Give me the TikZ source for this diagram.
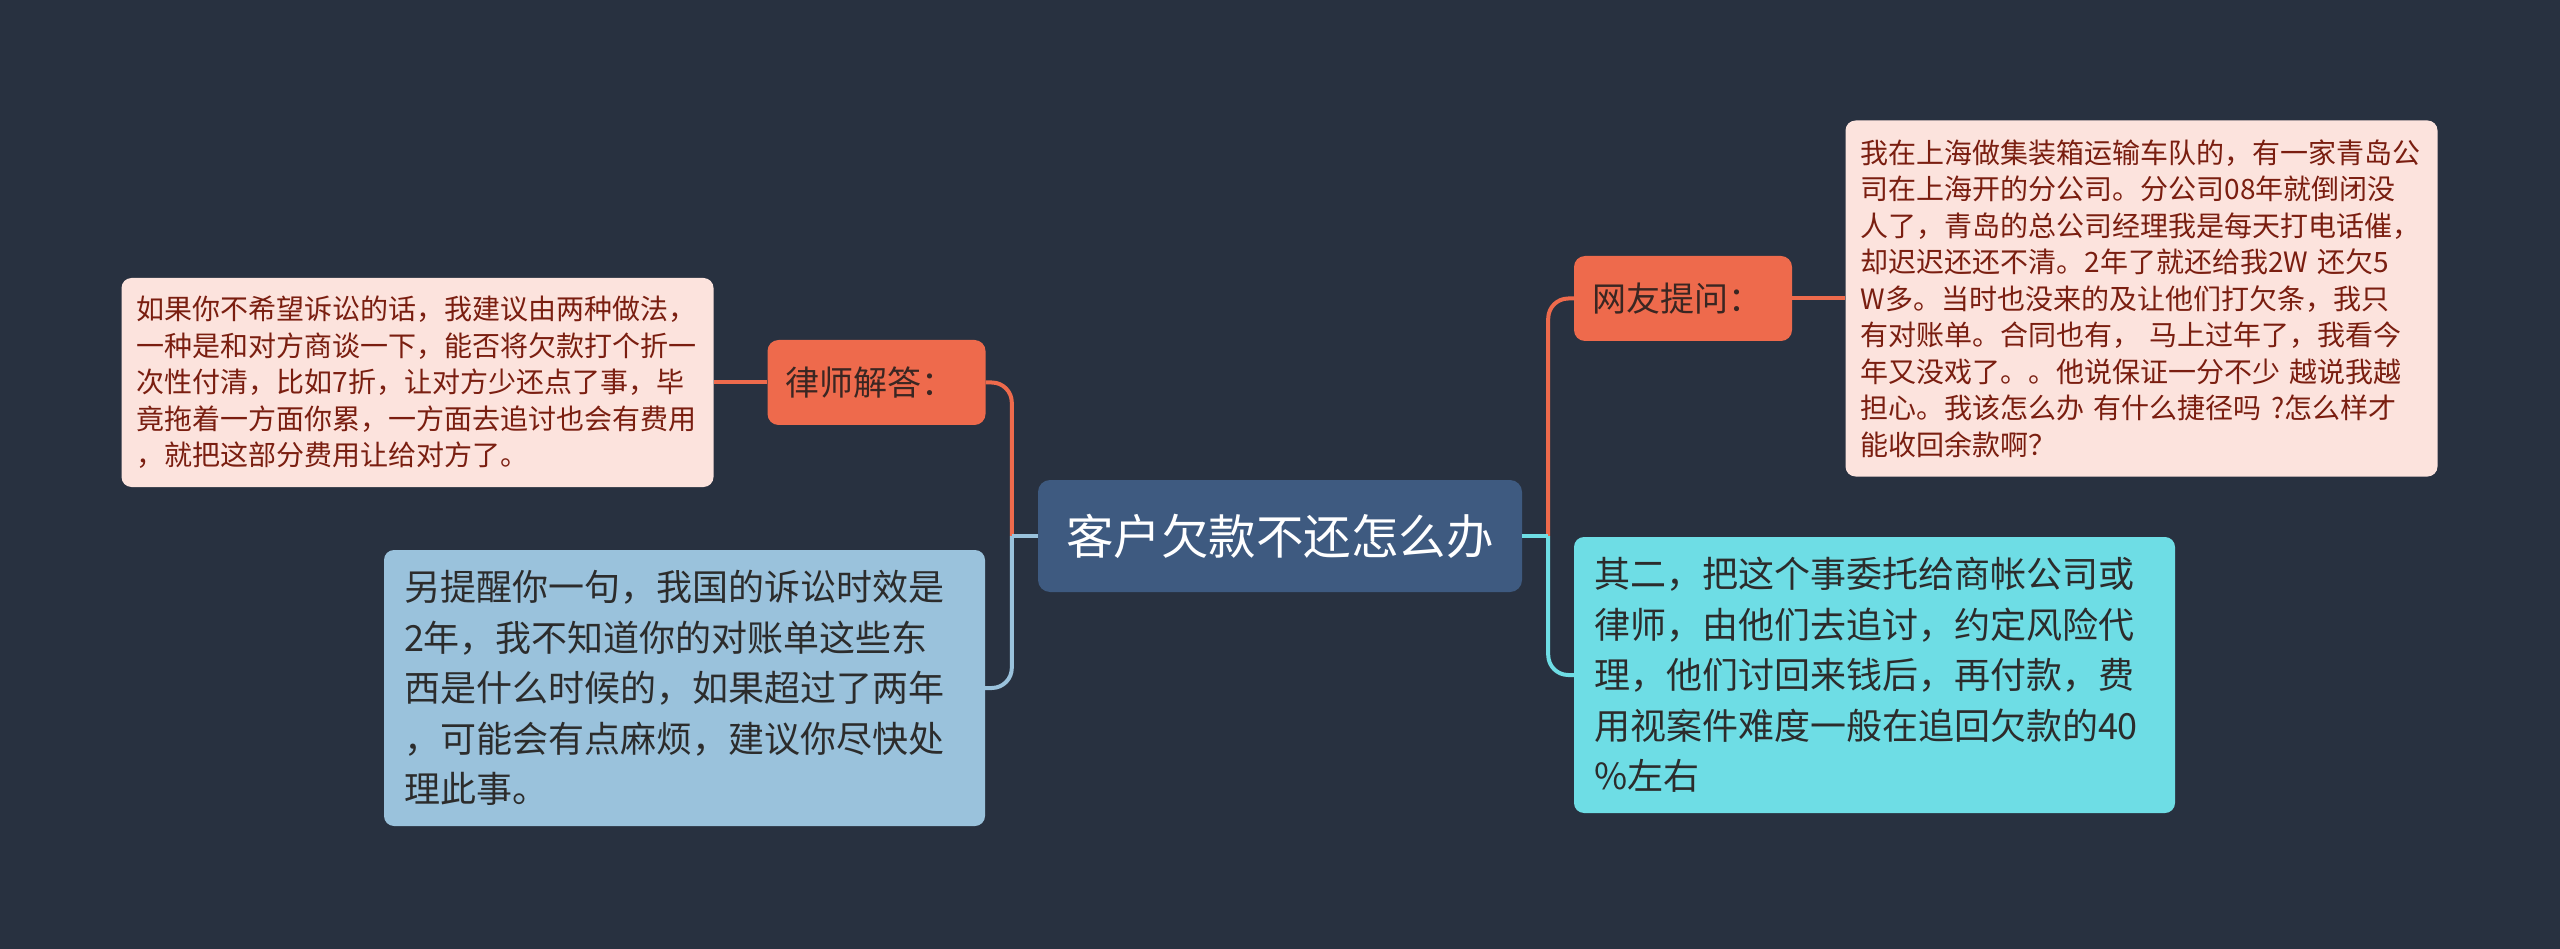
\documentclass[tikz,border=0pt]{standalone}
\usepackage{fontspec}
\setmainfont{Noto Sans CJK SC}
\usetikzlibrary{calc}
\definecolor{bgc}{HTML}{283140}
\definecolor{centerc}{HTML}{3E5A80}
\definecolor{orangec}{HTML}{EE6A4C}
\definecolor{pinkc}{HTML}{FCE3DD}
\definecolor{pinktext}{HTML}{7A1E10}
\definecolor{bluec}{HTML}{9AC2DC}
\definecolor{cyanc}{HTML}{6EDDE5}
\definecolor{darktext}{HTML}{2C2C2C}
\definecolor{orangetext}{HTML}{3A2622}
\begin{document}
\begin{tikzpicture}[x=1pt,y=-1pt,
  rootbox/.style={fill=centerc, rounded corners=12pt, inner sep=0pt,
    minimum width=484pt, minimum height=112pt, text=white,
    font=\fontsize{47.5pt}{54pt}\selectfont},
  tagbox/.style={fill=orangec, rounded corners=11pt, inner xsep=18pt, inner ysep=0pt,
    text width=182pt, minimum height=85pt, align=left, text=orangetext,
    font=\fontsize{34pt}{40pt}\selectfont},
  pinkbox/.style={fill=pinkc, rounded corners=10pt, inner xsep=15pt, inner ysep=0pt,
    text width=562pt, align=left, text=pinktext,
    font=\fontsize{28pt}{36.5pt}\selectfont},
  bluebox/.style={fill=#1, rounded corners=10pt, inner xsep=20pt, inner ysep=0pt,
    text width=561pt, minimum height=276pt, align=left, text=darktext,
    font=\fontsize{36pt}{50.5pt}\selectfont},
  conn/.style={draw=#1, line width=4pt},
]
\fill[bgc] (0,0) rectangle (2560,949);
\useasboundingbox (0,0) rectangle (2560,949);

% nodes
\node[rootbox] (c) at (1280,536) {客户欠款不还怎么办};
\node[tagbox] (lawyer) at (876.5,382.5) {律师解答：};
\node[tagbox] (ask) at (1683,298.5) {网友提问：};
\node[pinkbox, minimum height=209pt] (pinkL) at (417.5,382.5) {如果你不希望诉讼的话，我建议由两种做法，\\一种是和对方商谈一下，能否将欠款打个折一\\次性付清，比如7折，让对方少还点了事，毕\\竟拖着一方面你累，一方面去追讨也会有费用\\，就把这部分费用让给对方了。};
\node[pinkbox, minimum height=356pt] (pinkR) at (2141.5,298.5) {我在上海做集装箱运输车队的，有一家青岛公\\司在上海开的分公司。分公司08年就倒闭没\\人了，青岛的总公司经理我是每天打电话催，\\却迟迟还还不清。2年了就还给我2W 还欠5\\W多。当时也没来的及让他们打欠条，我只\\有对账单。合同也有， 马上过年了，我看今\\年又没戏了。。他说保证一分不少 越说我越\\担心。我该怎么办 有什么捷径吗 ?怎么样才\\能收回余款啊？};
\node[bluebox=bluec] (blueL) at (684.5,688) {另提醒你一句，我国的诉讼时效是\\2年，我不知道你的对账单这些东\\西是什么时候的，如果超过了两年\\，可能会有点麻烦，建议你尽快处\\理此事。};
\node[bluebox=cyanc] (cyanR) at (1874.5,675) {其二，把这个事委托给商帐公司或\\律师，由他们去追讨，约定风险代\\理，他们讨回来钱后，再付款，费\\用视案件难度一般在追回欠款的40\\\%左右};

% junctions
\coordinate (jl) at ($(c.west)+(-26,0)$);
\coordinate (jr) at ($(c.east)+(26,0)$);

% connectors
\draw[conn=orangec, rounded corners=20pt] (jl) |- (lawyer.east);
\draw[conn=bluec] (c.west) -- (jl);
\draw[conn=bluec, rounded corners=20pt] (jl) |- (blueL.east);
\draw[conn=orangec, rounded corners=20pt] (jr) |- (ask.west);
\draw[conn=cyanc] (c.east) -- (jr);
\draw[conn=cyanc, rounded corners=20pt] (jr) |- (cyanR.west);
\draw[conn=orangec] (lawyer.west) -- (pinkL.east);
\draw[conn=orangec] (ask.east) -- (pinkR.west);
\end{tikzpicture}
\end{document}
